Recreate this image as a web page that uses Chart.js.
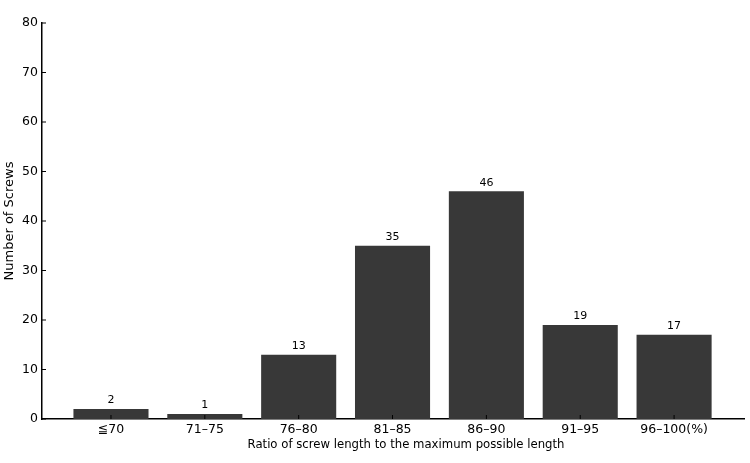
<!DOCTYPE html>
<html>
<head>
<meta charset="utf-8">
<script src="https://cdn.jsdelivr.net/npm/chart.js@4.4.1/dist/chart.umd.min.js"></script>
<style>
  html, body { margin: 0; padding: 0; background: #fff; }
  #wrap { width: 750px; height: 463px; }
</style>
</head>
<body>
<div id="wrap"><canvas id="myChart"></canvas></div>
<script>
// Chart data
const categories = ['≦70', '71–75', '76–80', '81–85', '86–90', '91–95', '96–100(%)'];
const screwCounts = [2, 1, 13, 35, 46, 19, 17];
const yTicks = [0, 10, 20, 30, 40, 50, 60, 70, 80];
const xTitle = 'Ratio of screw length to the maximum possible length';

const FONT = "'DejaVu Sans', sans-serif";

// Draw small inward tick marks, matplotlib style
const inwardTicks = {
  id: 'inwardTicks',
  afterDraw(chart) {
    const ctx = chart.ctx;
    const x = chart.scales.x, y = chart.scales.y;
    const len = 4;
    ctx.save();
    ctx.strokeStyle = '#000';
    ctx.lineWidth = 1;
    x.ticks.forEach((t, i) => {
      const px = x.getPixelForTick(i);
      ctx.beginPath();
      ctx.moveTo(px, x.top);
      ctx.lineTo(px, x.top - len);
      ctx.stroke();
    });
    y.ticks.forEach((t, i) => {
      const py = y.getPixelForTick(i);
      ctx.beginPath();
      ctx.moveTo(y.right, py);
      ctx.lineTo(y.right + len, py);
      ctx.stroke();
    });
    // x axis title, sitting a little right of centre like the reference
    ctx.fillStyle = '#000';
    ctx.font = '11.7px ' + FONT;
    ctx.textAlign = 'center';
    ctx.textBaseline = 'middle';
    ctx.fillText(xTitle, (x.left + x.right) / 2 + 13, x.bottom - 18);
    ctx.restore();
  }
};

// Value labels above each bar
const barLabels = {
  id: 'barLabels',
  afterDatasetsDraw(chart) {
    const ctx = chart.ctx;
    const meta = chart.getDatasetMeta(0);
    ctx.save();
    ctx.fillStyle = '#000';
    ctx.font = '11px ' + FONT;
    ctx.textAlign = 'center';
    ctx.textBaseline = 'bottom';
    meta.data.forEach((bar, i) => {
      ctx.fillText(String(screwCounts[i]), bar.x, bar.y - 3);
    });
    ctx.restore();
  }
};

function initializeChart() {
  const ctx = document.getElementById('myChart').getContext('2d');
  return new Chart(ctx, {
    type: 'bar',
    data: {
      datasets: [{
        data: screwCounts.map((v, i) => ({ x: i, y: v })),
        backgroundColor: '#383838',
        borderWidth: 0,
        categoryPercentage: 1,
        barPercentage: 0.8
      }]
    },
    plugins: [inwardTicks, barLabels],
    options: {
      responsive: true,
      maintainAspectRatio: false,
      animation: false,
      layout: { padding: { top: 23, right: 6, left: 0, bottom: 0 } },
      plugins: {
        legend: { display: false },
        tooltip: { enabled: false }
      },
      scales: {
        x: {
          type: 'linear',
          offset: false,
          min: -0.735,
          max: 6.745,
          afterBuildTicks: s => { s.ticks = categories.map((c, i) => ({ value: i })); },
          afterFit: s => { s.height = 44; },
          grid: { display: false, drawTicks: false },
          border: { color: '#000', width: 1.5 },
          ticks: {
            padding: 3,
            color: '#000',
            font: { family: FONT, size: 12.5 },
            maxRotation: 0,
            autoSkip: false,
            callback: v => categories[v]
          }
        },
        y: {
          min: 0,
          max: 80,
          afterBuildTicks: s => { s.ticks = yTicks.map(v => ({ value: v })); },
          afterFit: s => { s.width = 42; },
          grid: { display: false, drawTicks: false },
          border: { color: '#000', width: 1.5 },
          ticks: {
            padding: 4,
            color: '#000',
            font: { family: FONT, size: 12.5 }
          },
          title: {
            display: true,
            text: 'Number of Screws',
            color: '#000',
            font: { family: FONT, size: 13 },
            padding: { top: 2, bottom: 0 }
          }
        }
      }
    }
  });
}

const myChart = initializeChart();
</script>
</body>
</html>
